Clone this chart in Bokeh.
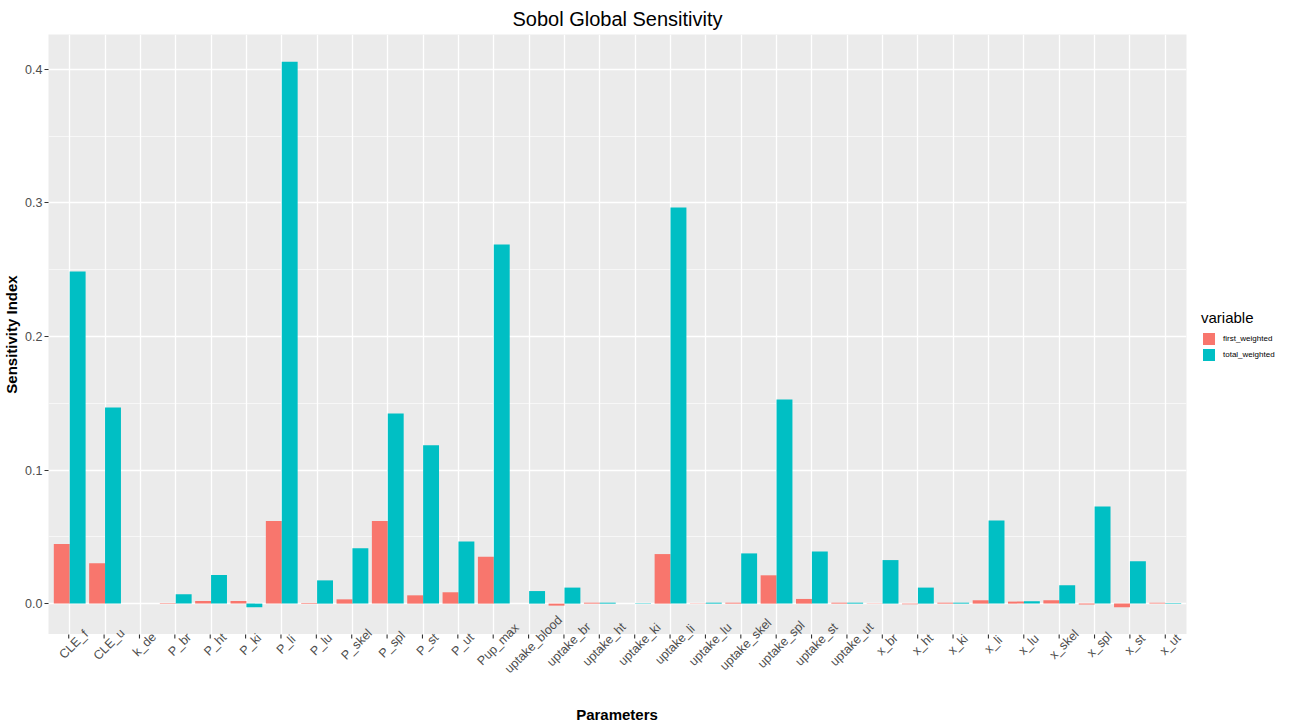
from bokeh.plotting import figure
from bokeh.models import (ColumnDataSource, FactorRange, Range1d, FixedTicker,
                          PrintfTickFormatter, Legend, LegendItem, Label)
from bokeh.core.properties import value
from bokeh.transform import dodge
from bokeh.embed import file_html
from bokeh.resources import INLINE

# Sobol indices per model parameter
parameters = ["CLE_f", "CLE_u", "k_de", "P_br", "P_ht", "P_ki", "P_li", "P_lu",
              "P_skel", "P_spl", "P_st", "P_ut", "Pup_max", "uptake_blood",
              "uptake_br", "uptake_ht", "uptake_ki", "uptake_li", "uptake_lu",
              "uptake_skel", "uptake_spl", "uptake_st", "uptake_ut", "x_br",
              "x_ht", "x_ki", "x_li", "x_lu", "x_skel", "x_spl", "x_st", "x_ut"]

first_weighted = [0.0446, 0.0302, 0.0, 0.0005, 0.0020, 0.0020, 0.0618, 0.0005,
                  0.0032, 0.0618, 0.0062, 0.0085, 0.0351, 0.0, -0.0015, 0.0007,
                  0.0, 0.0371, 0.0002, 0.0007, 0.0212, 0.0035, 0.0007, 0.0002,
                  -0.0005, 0.0007, 0.0025, 0.0015, 0.0025, -0.0007, -0.0027, 0.0007]

total_weighted = [0.2486, 0.1469, 0.0, 0.0070, 0.0214, -0.0027, 0.4057, 0.0174,
                  0.0414, 0.1424, 0.1185, 0.0466, 0.2688, 0.0094, 0.0120, 0.0007,
                  -0.0003, 0.2965, 0.0007, 0.0376, 0.1529, 0.0391, 0.0007, 0.0326,
                  0.0120, 0.0007, 0.0623, 0.0017, 0.0137, 0.0728, 0.0317, -0.0002]

series_names = ["first_weighted", "total_weighted"]
series_colors = ["#F8766D", "#00BFC4"]

y_ticks = [0.0, 0.1, 0.2, 0.3, 0.4]
y_minor_ticks = [-0.05, 0.05, 0.15, 0.25, 0.35, 0.45]

FONT = "Liberation Sans"
W, H = 1291, 726
LEFT, RIGHT, TOP = 47, 105, 34
PANEL_H = 600            # height of the grey plotting panel
STRIP_H = 126            # strip holding the rotated parameter names
OVERLAP = 34             # names may reach up into the panel
LEG_TOP, LEG_H = 300, 70  # box holding the legend, right of the panel

src = ColumnDataSource(dict(param=parameters, first=first_weighted, total=total_weighted))

# continuous axis expanded by 5% on both sides, discrete by 0.6 of a step
lo = min(first_weighted + total_weighted)
hi = max(first_weighted + total_weighted)
pad = 0.05 * (hi - lo)
x_range = FactorRange(*parameters, range_padding=0.1, range_padding_units="absolute")

p = figure(width=W, height=TOP + PANEL_H,
           x_range=x_range, y_range=Range1d(lo - pad, hi + pad),
           output_backend="svg", toolbar_location=None,
           min_border_left=LEFT, min_border_right=RIGHT,
           min_border_top=TOP, min_border_bottom=0)

p.vbar(x=dodge("param", -0.225, range=x_range), top="first", bottom=0,
       width=0.45, source=src, fill_color=series_colors[0], line_color=None)
p.vbar(x=dodge("param", 0.225, range=x_range), top="total", bottom=0,
       width=0.45, source=src, fill_color=series_colors[1], line_color=None)

# panel
p.background_fill_color = "#EBEBEB"
p.border_fill_color = "white"
p.outline_line_color = None

# title
p.title.text = "Sobol Global Sensitivity"
p.title.align = "center"
p.title.text_font = FONT
p.title.text_font_size = "20px"
p.title.text_font_style = "normal"
p.title.text_color = "black"

# y axis
p.yaxis.ticker = FixedTicker(ticks=y_ticks, minor_ticks=y_minor_ticks)
p.yaxis.formatter = PrintfTickFormatter(format="%.1f")
p.yaxis.axis_line_color = None
p.yaxis.minor_tick_line_color = None
p.yaxis.major_tick_line_color = "#333333"
p.yaxis.major_tick_out = 4
p.yaxis.major_tick_in = 0
p.yaxis.major_label_standoff = 2
p.yaxis.major_label_text_font = FONT
p.yaxis.major_label_text_font_size = "12.5px"
p.yaxis.major_label_text_color = "#4D4D4D"
p.yaxis.axis_label = "Sensitivity Index"
p.yaxis.axis_label_text_font = FONT
p.yaxis.axis_label_text_font_size = "15px"
p.yaxis.axis_label_text_font_style = "bold"
p.yaxis.axis_label_text_color = "black"
p.yaxis.axis_label_standoff = 2

# x axis of the panel only drives the vertical grid lines
p.xaxis.visible = False

# grid
p.xgrid.grid_line_color = "white"
p.xgrid.grid_line_width = 1.3
p.ygrid.grid_line_color = "white"
p.ygrid.grid_line_width = 1.3
p.ygrid.minor_grid_line_color = "white"
p.ygrid.minor_grid_line_width = 0.6

# strip under the panel: tick marks, rotated parameter names, axis title
s = figure(width=W, height=STRIP_H, x_range=x_range, y_range=Range1d(STRIP_H, 0),
           output_backend="svg", toolbar_location=None,
           x_axis_location=None, y_axis_location=None,
           min_border_left=LEFT, min_border_right=RIGHT,
           min_border_top=0, min_border_bottom=0,
           styles={"margin-top": f"-{OVERLAP}px"})
s.background_fill_alpha = 0
s.border_fill_alpha = 0
s.outline_line_color = None
s.grid.visible = False

s.segment(x0="param", x1="param", y0=OVERLAP, y1=OVERLAP + 4, source=src,
          line_color="#333333", line_width=1.1)
s.text(x="param", y=OVERLAP + 10, text="param", source=src,
       angle=45, angle_units="deg", text_align="center", text_baseline="middle",
       x_offset=5, text_font=value(FONT), text_font_size="12.5px",
       text_color="#4D4D4D")

s.add_layout(Label(x=(W - LEFT - RIGHT) / 2, y=12, x_units="screen", y_units="screen",
                   text="Parameters", text_align="center", text_baseline="middle",
                   text_font=FONT, text_font_size="15px", text_font_style="bold",
                   text_color="black"))

# legend box laid over the right margin of the panel figure
lg = figure(width=RIGHT, height=LEG_H, x_range=Range1d(0, 1), y_range=Range1d(0, 1),
            output_backend="svg", toolbar_location=None,
            x_axis_location=None, y_axis_location=None,
            min_border_left=0, min_border_right=0, min_border_top=0, min_border_bottom=0,
            styles={"margin-top": f"-{H - LEG_TOP}px", "margin-left": f"{W - RIGHT}px"})
lg.background_fill_alpha = 0
lg.border_fill_alpha = 0
lg.outline_line_color = None
lg.grid.visible = False

# key glyphs: one zero-height bar each, outside the box's range, so only the
# legend swatches show
keys = [lg.vbar(x=[-1], top=[0], width=0.5, fill_color=c, line_color=None)
        for c in series_colors]
# location is the legend's lower-left corner inside the box
legend = Legend(items=[LegendItem(label=n, renderers=[k]) for n, k in zip(series_names, keys)],
                location=(15, 8), orientation="vertical")
legend.title = "variable"
legend.title_text_font = FONT
legend.title_text_font_size = "15px"
legend.title_text_font_style = "normal"
legend.title_text_color = "black"
legend.title_standoff = 5
legend.label_text_font = FONT
legend.label_text_font_size = "8px"
legend.label_text_color = "black"
legend.glyph_width = 15
legend.glyph_height = 15
legend.label_height = 15
legend.spacing = 1
legend.label_standoff = 7
legend.padding = 0
legend.margin = 0
legend.border_line_color = None
legend.background_fill_alpha = 0
lg.add_layout(legend)

open("out.html", "w").write(file_html([p, s, lg], INLINE))
